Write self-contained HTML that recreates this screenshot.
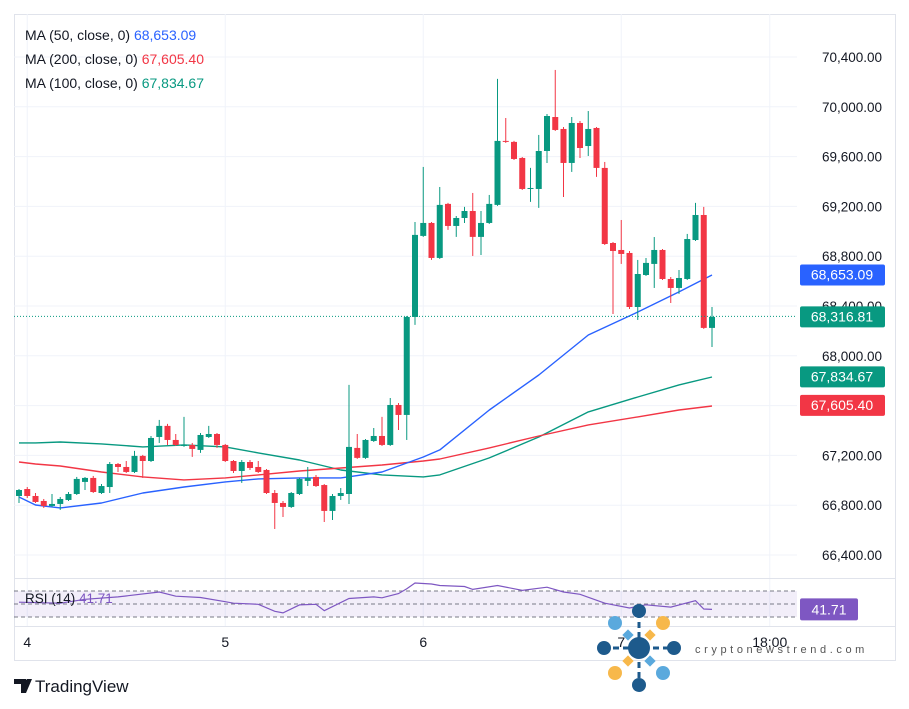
<!DOCTYPE html>
<html><head><meta charset="utf-8"><style>
html,body{margin:0;padding:0;background:#fff;}
svg{display:block;font-family:"Liberation Sans",sans-serif;}
</style></head><body>
<svg id="chart" width="909" height="709" viewBox="0 0 909 709" xmlns="http://www.w3.org/2000/svg">
<rect x="0" y="0" width="909" height="709" fill="#fff"/>
<rect x="14.5" y="14.5" width="881" height="646" fill="none" stroke="#e0e3eb"/>
<g id="grid"></g>
<rect x="14" y="591" width="783" height="26" fill="#7e57c2" fill-opacity="0.1"/>
<line x1="14" x2="797" y1="591" y2="591" stroke="#787b86" stroke-dasharray="4,3"/>
<line x1="14" x2="797" y1="604" y2="604" stroke="#787b86" stroke-dasharray="4,3"/>
<line x1="14" x2="797" y1="617" y2="617" stroke="#787b86" stroke-dasharray="4,3"/>
<line x1="14" x2="895" y1="578.5" y2="578.5" stroke="#e0e3eb"/>
<line x1="14" x2="895" y1="626.5" y2="626.5" stroke="#e0e3eb"/>
<g id="mas"></g>
<g id="candles"></g>
<line id="lastline" x1="14" x2="797" y1="317" y2="317" stroke="#089981" stroke-dasharray="1,2"/>
<g id="paxis"></g>
<g id="taxis"></g>
<g id="rsi"></g>
<g font-size="14">
<text x="25" y="40" fill="#131722">MA (50, close, 0) <tspan fill="#2962ff">68,653.09</tspan></text>
<text x="25" y="64" fill="#131722">MA (200, close, 0) <tspan fill="#f23645">67,605.40</tspan></text>
<text x="25" y="88" fill="#131722">MA (100, close, 0) <tspan fill="#089981">67,834.67</tspan></text>
</g>
<text x="25" y="603" font-size="13.5" fill="#131722">RSI (14) <tspan fill="#7e57c2">41.71</tspan></text>
<g>
<line x1="639" y1="612" x2="639" y2="684" stroke="#1d5a8c" stroke-width="3" stroke-dasharray="6,4"/>
<line x1="603" y1="648" x2="675" y2="648" stroke="#1d5a8c" stroke-width="3" stroke-dasharray="6,4"/>
<circle cx="639" cy="648" r="11" fill="#1d5a8c"/>
<circle cx="639" cy="611" r="7" fill="#1d5a8c"/><circle cx="639" cy="685" r="7" fill="#1d5a8c"/>
<circle cx="604" cy="648" r="7" fill="#1d5a8c"/><circle cx="674" cy="648" r="7" fill="#1d5a8c"/>
<circle cx="615" cy="623" r="7" fill="#5aa9dd"/><circle cx="663" cy="673" r="7" fill="#5aa9dd"/>
<circle cx="663" cy="623" r="7" fill="#f7b84b"/><circle cx="615" cy="673" r="7" fill="#f7b84b"/>
<rect x="624" y="631" width="8" height="8" fill="#5aa9dd" transform="rotate(45 628 635)"/>
<rect x="646" y="657" width="8" height="8" fill="#5aa9dd" transform="rotate(45 650 661)"/>
<rect x="646" y="631" width="8" height="8" fill="#f7b84b" transform="rotate(45 650 635)"/>
<rect x="624" y="657" width="8" height="8" fill="#f7b84b" transform="rotate(45 628 661)"/>
</g>
<text x="695" y="653" font-size="11" fill="#555" letter-spacing="3.6">cryptonewstrend.com</text>
<g>
<path d="M14 679h12v14h-5v-9h-7z M27 679h5l-6 14h-3z" fill="#131722"/>
<circle cx="28" cy="681.5" r="2.5" fill="#131722"/>
<text x="35" y="692" font-size="17" fill="#131722">TradingView</text>
</g>
</svg>
<script>
var opens=[66874,66930,66874,66834,66794,66810,66842,66890,66987,67019,66898,66946,67131,67107,67067,67196,67155,67348,67437,67324,67276,67284,67244,67348,67372,67284,67155,67075,67147,67107,67083,66898,66818,66786,66890,66995,67027,66962,66754,66874,66890,67260,67180,67316,67356,67284,67605,67525,68312,68963,69067,68786,69220,69043,69107,69163,68955,69067,69212,69726,69718,69589,69340,69340,69645,69918,69822,69549,69870,69685,69830,69509,68906,68850,68826,68392,68649,68738,68850,68617,68545,68617,68930,69131,68224];
var highs=[66930,66946,66898,66850,66890,66866,66906,67027,67027,67035,66970,67147,67139,67155,67236,67204,67356,67485,67453,67372,67509,67300,67380,67437,67380,67292,67163,67163,67163,67155,67091,66922,66834,66906,67019,67107,67043,66970,66890,66938,67766,67372,67332,67420,67509,67661,67621,68320,69075,69517,69075,69356,69228,69123,69196,69308,69163,69292,70224,69910,69726,69597,69509,69774,69942,70296,69838,69918,69886,69966,69838,69557,68914,69091,68842,68770,68786,68954,68858,68633,68689,68979,69228,69196,68392];
var lows=[66818,66858,66818,66778,66786,66762,66834,66882,66922,66898,66890,66898,67067,67059,67059,67019,67147,67300,67284,67276,67268,67188,67220,67340,67260,67147,67059,66979,67083,67059,66890,66609,66705,66778,66882,66954,66946,66665,66681,66842,66810,67172,67172,67308,67276,67276,67404,67324,68248,68955,68770,68778,69011,68955,69067,68802,68810,69059,69204,69710,69573,69332,69236,69188,69549,69806,69276,69477,69589,69605,69437,68890,68336,68738,68376,68288,68641,68545,68609,68424,68497,68609,68922,68216,68071];
var closes=[66922,66874,66826,66794,66810,66850,66890,67011,67019,66906,66954,67131,67107,67067,67196,67155,67340,67437,67324,67284,67284,67252,67364,67372,67284,67155,67075,67147,67099,67067,66898,66818,66786,66898,67011,67019,66954,66754,66874,66898,67268,67180,67324,67356,67284,67605,67525,68312,68971,69067,68786,69212,69043,69107,69163,68955,69067,69220,69726,69718,69581,69340,69348,69645,69926,69814,69549,69870,69669,69822,69509,68898,68842,68818,68392,68657,68746,68850,68617,68545,68625,68938,69131,68224,68312];
var maIdx=[0,2,5,10,15,20,25,29,34,39,44,49,51,57,63,69,75,80,84];
var ma50=[66866,66802,66778,66818,66898,66946,66987,67011,67019,67019,67067,67187,67244,67565,67846,68167,68352,68513,68649];
var ma100=[67300,67300,67308,67292,67268,67284,67268,67220,67163,67083,67043,67027,67043,67180,67348,67549,67669,67766,67830];
var ma200=[67147,67131,67115,67067,67027,67003,67019,67043,67075,67099,67123,67155,67171,67260,67356,67445,67509,67565,67597];
var rsiIdx=[0,5,8,12,17,19,22,25,26,29,31,32,34,36,37,40,43,44,46,47,48,50,51,54,55,58,61,64,66,68,71,74,76,79,82,83,84];
var rsiVal=[52.7,51.2,57.2,61,68.4,62,60,53.6,51.2,49.6,38.8,36.3,48.6,49.6,39.7,58.5,61,59.5,66,73.4,82.3,80.8,78.4,76.9,72.4,78.4,71,75.9,68.4,65,51.2,43.8,48.7,45.3,55.1,42.3,41.71];
var priceTicks=[70400,70000,69600,69200,68800,68400,68000,67600,67200,66800,66400];
var timeLabels=["4","5","6","7","18:00"];
var timeIdx=[1,25,49,73,91];
var lastPrice=68316.81;
var tagValues=[68653.09,68316.81,67834.67,67605.40];
var tagColors=["#2962ff","#089981","#089981","#f23645"];

var NS="http://www.w3.org/2000/svg";
function X(i){return 19+8.25*i;}
function Y(p){return 57+(70400-p)*0.1245;}
function YR(v){return 591+(70-v)*0.65;}
function mk(tag,attrs,parent){var e=document.createElementNS(NS,tag);for(var k in attrs)e.setAttribute(k,attrs[k]);parent.appendChild(e);return e;}
function fmt(v){return v.toLocaleString("en-US",{minimumFractionDigits:2,maximumFractionDigits:2});}

var grid=document.getElementById("grid");
priceTicks.forEach(function(p){
  var l=mk("line",{x1:14,x2:797,y1:Y(p),y2:Y(p),stroke:"#f0f3fa"},grid);
  
  
});
timeIdx.forEach(function(i){
  var l=mk("line",{x1:X(i),x2:X(i),y1:14,y2:626,stroke:"#f0f3fa"},grid);
  
  
});

var paxis=document.getElementById("paxis");
priceTicks.forEach(function(p){
  var t=mk("text",{x:882,y:Y(p)+5,"text-anchor":"end","font-size":"13.5",fill:"#131722"},paxis);
  t.textContent=fmt(p);
  
  
});

var mas=document.getElementById("mas");
function drawLine(vals,color,name){
  var d=vals.map(function(v,k){return (k?"L":"M")+X(maIdx[k]).toFixed(1)+","+Y(v).toFixed(1);}).join("");
  var p=mk("path",{d:d,fill:"none",stroke:color,"stroke-width":1.4,"stroke-linejoin":"round"},mas);
  
  
}
drawLine(ma100,"#089981","ma100-line");
drawLine(ma200,"#f23645","ma200-line");
drawLine(ma50,"#2962ff","ma50-line");

var cg=document.getElementById("candles");
for(var i=0;i<opens.length;i++){
  var o=opens[i],c=closes[i],up=c>=o,col=up?"#089981":"#f23645",cx=X(i);
  var g=mk("g",{},cg);
  
  
  mk("line",{x1:cx,x2:cx,y1:Y(highs[i]),y2:Y(lows[i]),stroke:col,"stroke-width":1},g);
  var bodyTop=Y(Math.max(o,c)),bodyBot=Y(Math.min(o,c));
  mk("rect",{x:cx-3,y:bodyTop,width:6,height:Math.max(1,bodyBot-bodyTop),fill:col},g);
}
var ll=document.getElementById("lastline");
ll.setAttribute("y1",Y(lastPrice));ll.setAttribute("y2",Y(lastPrice));

tagValues.forEach(function(v,k){
  var g=mk("g",{},paxis);
  
  
  var y=Y(v);
  mk("rect",{x:800,y:y-10,width:85,height:21,rx:2,fill:tagColors[k]},g);
  var tx=mk("text",{x:842,y:y+5,"text-anchor":"middle","font-size":"14",fill:"#fff"},g);
  tx.textContent=fmt(v);
});

var ta=document.getElementById("taxis");
timeLabels.forEach(function(s,k){
  var t=mk("text",{x:X(timeIdx[k]),y:647,"text-anchor":"middle","font-size":"14",fill:"#131722"},ta);
  t.textContent=s;
  
  
});

var rg=document.getElementById("rsi");
var rd=rsiVal.map(function(v,k){return (k?"L":"M")+X(rsiIdx[k]).toFixed(1)+","+YR(v).toFixed(1);}).join("");
var rp=mk("path",{d:rd,fill:"none",stroke:"#7e57c2","stroke-width":1.2},rg);


var lastR=rsiVal[rsiVal.length-1];
var rb=mk("rect",{x:800,y:YR(lastR)-11,width:58,height:22,rx:2,fill:"#7e57c2"},rg);


var rt=mk("text",{x:829,y:YR(lastR)+5,"text-anchor":"middle","font-size":"14",fill:"#fff"},rg);
rt.textContent=lastR.toFixed(2);


</script>
</body></html>
